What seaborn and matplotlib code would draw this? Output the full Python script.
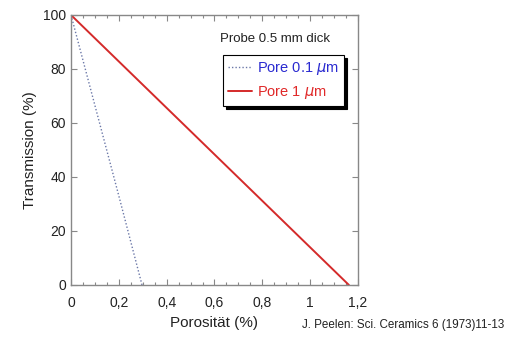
import numpy as np
import pandas as pd
import seaborn as sns
import matplotlib.pyplot as plt
from matplotlib.ticker import MultipleLocator

# Data
porositaet_01 = [0.0, 0.1, 0.2, 0.297]
transmission_01 = [100, 66.5, 33, 0]
porositaet_1 = [0.0, 1.162]
transmission_1 = [100, 0]

sns.set_style("ticks")
plt.rcParams['font.family'] = ['Liberation Sans', 'DejaVu Sans']

fig = plt.figure(figsize=(5.06, 3.38), dpi=100)
ax = fig.add_axes([71 / 506, 53 / 338, 287 / 506, 270 / 338])

df01 = pd.DataFrame({"x": porositaet_01, "y": transmission_01})
df1 = pd.DataFrame({"x": porositaet_1, "y": transmission_1})
sns.lineplot(data=df01, x="x", y="y", ax=ax, color="#6b78a8", linestyle=(0, (1, 1.5)),
             linewidth=1.0, label="Pore 0.1 $\\mu$m")
sns.lineplot(data=df1, x="x", y="y", ax=ax, color="#d42a2a", linewidth=1.4,
             label="Pore 1 $\\mu$m")

ax.set_xlim(0, 1.2)
ax.set_ylim(0, 100)
ax.set_xticks([0, 0.2, 0.4, 0.6, 0.8, 1, 1.2])
ax.set_xticklabels(["0", "0,2", "0,4", "0,6", "0,8", "1", "1,2"])
ax.set_yticks([0, 20, 40, 60, 80, 100])
ax.xaxis.set_minor_locator(MultipleLocator(0.05))
ax.tick_params(which="both", direction="in", top=True, right=True, colors="#888888",
               labelcolor="#222222", labelsize=10, width=0.8)
ax.tick_params(which="major", length=4)
ax.tick_params(which="minor", length=2.5)
ax.tick_params(axis="x", pad=8)
for s in ax.spines.values():
    s.set_color("#888888")
    s.set_linewidth(1.0)

ax.set_xlabel("Porosität (%)", fontsize=11, color="#222222")
ax.set_ylabel("Transmission (%)", fontsize=11, color="#222222")

leg = ax.legend(loc="upper left", bbox_to_anchor=(0.53, 0.852), borderaxespad=0,
                frameon=True, fancybox=False,
                shadow={"color": "black", "alpha": 1.0}, fontsize=10.5, handlelength=1.6,
                handletextpad=0.4, borderpad=0.35, labelspacing=0.45)
leg.get_frame().set_edgecolor("black")
leg.get_frame().set_linewidth(0.8)
for txt, c in zip(leg.get_texts(), ["#2a2ad0", "#e02828"]):
    txt.set_color(c)

ax.text(0.52, 0.91, "Probe 0.5 mm dick", transform=ax.transAxes, fontsize=9.5,
        color="#222222", va="center")

fig.text(0.597, 0.03, "J. Peelen: Sci. Ceramics 6 (1973)11-13", fontsize=8.4, color="#222222")

fig.savefig("out.png", dpi=100)
